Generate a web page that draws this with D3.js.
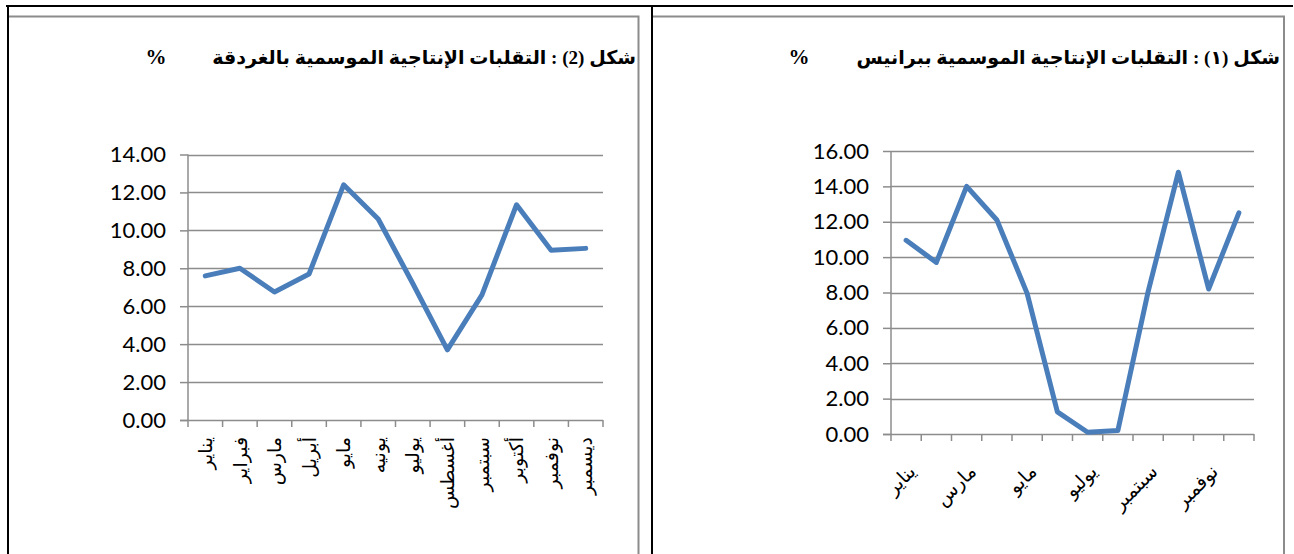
<!DOCTYPE html>
<html>
<head>
<meta charset="utf-8">
<script src="https://cdn.jsdelivr.net/npm/d3@7"></script>
<style>
  html, body { margin: 0; padding: 0; background: #fff; }
  svg { display: block; }
</style>
</head>
<body>
<div id="chart"></div>
<script>
// months (category axis)
const months = ['يناير', 'فبراير', 'مارس', 'أبريل', 'مايو', 'يونيه', 'يوليو', 'أغسطس', 'سبتمبر', 'أكتوبر', 'نوفمبر', 'ديسمبر'];
// شكل (2) : الغردقة
const hurghadaValues = [7.6, 8.0, 6.75, 7.7, 12.4, 10.6, 7.2, 3.7, 6.6, 11.35, 8.95, 9.05];
const hurghadaTicks = [0, 2, 4, 6, 8, 10, 12, 14];
// شكل (1) : برانيس
const baranisValues = [10.95, 9.7, 14.0, 12.1, 7.95, 1.25, 0.1, 0.2, 8.05, 14.8, 8.2, 12.5];
const baranisTicks = [0, 2, 4, 6, 8, 10, 12, 14, 16];

const titles = ['شكل (2) : التقلبات الإنتاجية الموسمية بالغردقة', 'شكل (١) : التقلبات الإنتاجية الموسمية ببرانيس'];

const W = 1294, H = 554;
const lineColor = '#4a7ebb';
const gridColor = '#8c8c8c';
const fmt = d3.format('.2f');

let svg = d3.select('#chart').append('svg')
  .attr('width', W)
  .attr('height', H);

// page borders
svg.append('line').attr('x1', 6).attr('x2', 1293).attr('y1', 6).attr('y2', 6)
  .attr('stroke', '#000').attr('stroke-width', 2);
svg.append('line').attr('x1', 8).attr('x2', 8).attr('y1', 5).attr('y2', H)
  .attr('stroke', '#000').attr('stroke-width', 2);
svg.append('line').attr('x1', 652).attr('x2', 652).attr('y1', 5).attr('y2', H)
  .attr('stroke', '#000').attr('stroke-width', 2);

// chart area frames
svg.append('path').attr('d', 'M9,16.5H638.5V' + H)
  .attr('fill', 'none').attr('stroke', gridColor).attr('stroke-width', 2);
svg.append('path').attr('d', 'M653,16.5H1284V' + H)
  .attr('fill', 'none').attr('stroke', gridColor).attr('stroke-width', 2);

function drawTitle(text, right, pctX) {
  let t = svg.append('text')
    .attr('x', right)
    .attr('y', 57)
    .attr('dy', '0.35em')
    .attr('text-anchor', 'end')
    .style('font-family', '"Liberation Serif", "DejaVu Sans", serif')
    .style('font-weight', 'bold')
    .style('font-size', '18px')
    .text(text);
  // fit to the width of the original title
  let len = t.node().getComputedTextLength();
  t.style('font-size', Math.min(22, 18 * 424 / len) + 'px');

  svg.append('text')
    .attr('x', pctX)
    .attr('y', 57)
    .attr('dy', '0.35em')
    .attr('text-anchor', 'middle')
    .style('font-family', '"Liberation Serif", serif')
    .style('font-weight', 'bold')
    .style('font-size', '21px')
    .text('%');
}

function drawChart(cfg) {
  let x = d3.scaleBand().domain(months).range([cfg.x0, cfg.x1]).padding(0);
  let y = d3.scaleLinear().domain([0, d3.max(cfg.ticks)]).range([cfg.y0, cfg.y1]);
  let g = svg.append('g');

  // gridlines
  g.selectAll('.grid')
    .data(cfg.ticks.filter(d => d > 0))
    .enter()
    .append('line')
    .attr('x1', cfg.x0).attr('x2', cfg.x1)
    .attr('y1', d => Math.round(y(d)) + 0.5).attr('y2', d => Math.round(y(d)) + 0.5)
    .attr('stroke', gridColor)
    .attr('stroke-width', 1.5);

  // y axis
  let yAxis = g.append('g')
    .attr('transform', 'translate(' + cfg.x0 + ',0)')
    .call(d3.axisLeft(y).tickValues(cfg.ticks).tickSize(8).tickPadding(14).tickFormat(fmt));
  yAxis.select('.domain').attr('stroke', gridColor).attr('stroke-width', 1.5).attr('d', 'M0,' + cfg.y0 + 'V' + cfg.y1);
  yAxis.selectAll('.tick line').attr('stroke', gridColor).attr('stroke-width', 1.5);
  yAxis.selectAll('.tick text')
    .style('font-family', 'Lato, "Open Sans", sans-serif')
    .style('font-size', '22px')
    .attr('fill', '#000');

  // x axis line + ticks between categories
  g.append('line')
    .attr('x1', cfg.x0 - 8).attr('x2', cfg.x1)
    .attr('y1', cfg.y0 + 0.5).attr('y2', cfg.y0 + 0.5)
    .attr('stroke', gridColor).attr('stroke-width', 1.5);
  let edges = months.map(m => x(m)).concat([cfg.x1]);
  g.selectAll('.xtick')
    .data(edges)
    .enter()
    .append('line')
    .attr('x1', d => d).attr('x2', d => d)
    .attr('y1', cfg.y0).attr('y2', cfg.y0 + 7)
    .attr('stroke', gridColor).attr('stroke-width', 1.5);

  // category labels
  g.selectAll('.xlabel')
    .data(months.filter((m, i) => i % cfg.every === 0))
    .enter()
    .append('text')
    .attr('text-anchor', 'end')
    .attr('dy', '0.35em')
    .attr('transform', d => 'translate(' + (x(d) + x.bandwidth() / 2 + cfg.labelDx) + ',' + cfg.labelY + ') rotate(' + cfg.angle + ')')
    .style('font-family', '"DejaVu Sans", sans-serif')
    .style('font-size', cfg.labelSize)
    .attr('fill', '#000')
    .text(d => d);

  // series line
  let line = d3.line()
    .x((d, i) => x(months[i]) + x.bandwidth() / 2)
    .y(d => y(d));
  g.append('path')
    .datum(cfg.values)
    .attr('d', line)
    .attr('fill', 'none')
    .attr('stroke', lineColor)
    .attr('stroke-width', 5)
    .attr('stroke-linejoin', 'round')
    .attr('stroke-linecap', 'round');
}

drawTitle(titles[0], 636, 156);
drawTitle(titles[1], 1280, 799);

drawChart({
  values: hurghadaValues, ticks: hurghadaTicks,
  x0: 188, x1: 603, y0: 420, y1: 154.5,
  every: 1, angle: -90, labelY: 437, labelDx: 0, labelSize: '19px'
});

drawChart({
  values: baranisValues, ticks: baranisTicks,
  x0: 891, x1: 1254, y0: 434, y1: 151,
  every: 2, angle: -45, labelY: 468, labelDx: 6, labelSize: '19px'
});
</script>
</body>
</html>
